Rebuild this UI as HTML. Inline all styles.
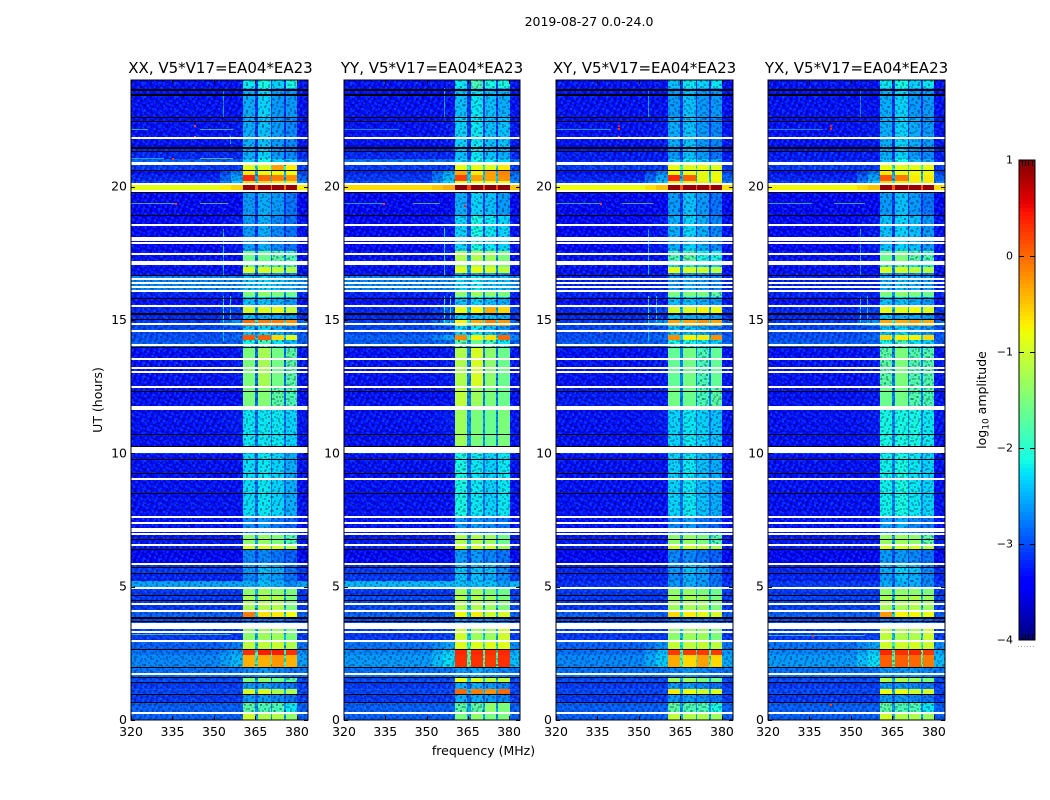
<!DOCTYPE html>
<html lang="en">
<head>
<meta charset="utf-8">
<title>2019-08-27 waterfall</title>
<style>
html,body{margin:0;padding:0;background:#fff;}
svg{display:block;font-family:"DejaVu Sans","Liberation Sans",sans-serif;fill:#000;}
</style>
</head>
<body>
<svg id="chart" xmlns="http://www.w3.org/2000/svg" width="1050" height="800" viewBox="0 0 1050 800">
<defs>
<pattern id="speckle" width="16" height="14" patternUnits="userSpaceOnUse">
<g fill="#000016" fill-opacity="0.28"><rect x="0" y="0" width="2" height="2"/><rect x="6" y="0" width="2" height="2"/><rect x="12" y="2" width="2" height="2"/><rect x="4" y="4" width="2" height="2"/><rect x="10" y="4" width="2" height="2"/><rect x="0" y="6" width="2" height="2"/><rect x="14" y="6" width="2" height="2"/><rect x="8" y="8" width="2" height="2"/><rect x="2" y="10" width="2" height="2"/><rect x="12" y="10" width="2" height="2"/><rect x="6" y="12" width="2" height="2"/></g>
<g fill="#20a0ff" fill-opacity="0.22"><rect x="3" y="0" width="2" height="2"/><rect x="9" y="2" width="2" height="2"/><rect x="1" y="3" width="2" height="2"/><rect x="14" y="0" width="2" height="2"/><rect x="7" y="5" width="2" height="2"/><rect x="12" y="7" width="2" height="2"/><rect x="3" y="7" width="2" height="2"/><rect x="10" y="10" width="2" height="2"/><rect x="5" y="9" width="2" height="2"/><rect x="0" y="12" width="2" height="2"/><rect x="14" y="12" width="2" height="2"/></g>
</pattern>
<pattern id="speckle-b" width="11" height="13" patternUnits="userSpaceOnUse">
<g fill="#000016" fill-opacity="0.22"><rect x="1" y="1" width="2" height="2"/><rect x="7" y="2" width="2" height="2"/><rect x="4" y="6" width="2" height="2"/><rect x="9" y="8" width="2" height="2"/><rect x="2" y="10" width="2" height="2"/></g>
<g fill="#20a0ff" fill-opacity="0.2"><rect x="4" y="0" width="2" height="2"/><rect x="9" y="4" width="2" height="2"/><rect x="1" y="5" width="2" height="2"/><rect x="6" y="9" width="2" height="2"/><rect x="0" y="11" width="2" height="2"/></g>
</pattern>
</defs>
<text x="589" y="26" font-size="12.5" text-anchor="middle">2019-08-27 0.0-24.0</text>
<text x="483.5" y="755" font-size="12.5" text-anchor="middle">frequency (MHz)</text>
<text transform="translate(102,400) rotate(-90)" font-size="12.5" text-anchor="middle">UT (hours)</text>
<text transform="translate(986,400) rotate(-90)" font-size="12.5" text-anchor="middle">log<tspan font-size="9" dy="2.5">10</tspan><tspan dy="-2.5"> amplitude</tspan></text>
<g id="panels"></g>
<g id="colorbar"></g>
</svg>
<script>
// ---- data ----
const panelTitles = ["XX, V5*V17=EA04*EA23", "YY, V5*V17=EA04*EA23", "XY, V5*V17=EA04*EA23", "YX, V5*V17=EA04*EA23"];
const xTickLabels = [320, 335, 350, 365, 380];
const yTickLabels = [0, 5, 10, 15, 20];
const colorbarTicks = [1, 0, -1, -2, -3, -4];
// Frequency bins (MHz): background, background, shoulder, ramp, ch1, gap, ch2, gap, ch3, gap, ch4, edge
const freqEdges = [320, 345, 352, 356, 360.4, 364.9, 366.1, 370.5, 371.1, 375.4, 375.9, 380.2, 384];
// Time bins (UT hours), top to bottom
const utEdges = [24, 23.7, 22.63, 21.5, 21.05, 20.8, 20.6, 20.42, 20.22, 20.1, 19.87, 18.92, 17.57, 17.15, 16.97, 16.77, 16.7, 16.07, 15.87, 15.55, 15.27, 15, 14.76, 14.44, 14.25, 14, 12.5, 11.66, 10.27, 9.98, 7.58, 7, 6.6, 6.4, 5.87, 5.5, 5.2, 4.95, 4.68, 4.13, 3.87, 3.65, 3, 2.65, 2.45, 2, 1.6, 1.41, 1.15, 0.96, 0.69, 0.31, 0];
// log10 amplitude per time bin: background, ramp, ch1, ch2, ch3, ch4, gap
const levelsXX = [
[-3.2,-3.0,-2.0,-1.9,-2.1,-1.9,-3.0],[-3.2,-3.0,-2.3,-2.1,-2.4,-2.4,-3.0],[-3.2,-2.9,-2.3,-2.2,-2.4,-2.5,-3.0],[-3.1,-2.9,-2.3,-2.1,-2.4,-2.5,-3.0],
[-2.8,-2.6,-2.1,-1.9,-2.1,-2.2,-2.6],[-3.0,-2.9,-0.9,-0.9,-0.5,-0.7,-2.0],[-3.2,-2.4,-0.7,-0.8,-0.8,-0.8,-2.4],[-3.1,-2.2,0.15,-0.2,-0.3,-0.4,-2.3],
[-3.0,-2.0,-0.6,-0.6,-0.7,-0.7,-2.0],[-0.75,-0.2,0.7,0.7,0.7,0.7,0.0],[-3.25,-3.0,-2.4,-2.3,-2.4,-2.6,-3.0],[-3.25,-2.9,-2.4,-2.3,-2.5,-2.6,-3.0],
[-3.2,-3.0,-1.6,-1.6,-1.7,-1.8,-2.6],[-3.2,-3.0,-1.7,-1.7,-1.8,-1.8,-2.6],[-3.2,-3.0,-0.95,-0.95,-1.1,-1.2,-2.5],[-3.2,-3.0,-2.5,-2.5,-2.5,-2.6,-3.0],
[-2.6,-2.5,-2.2,-2.1,-2.2,-2.3,-2.5],[-3.1,-2.9,-1.5,-1.4,-1.5,-1.6,-2.5],[-3.2,-3.0,-2.2,-2.2,-2.3,-2.4,-2.8],[-3.1,-2.7,-1.0,-0.95,-0.9,-1.1,-2.3],
[-3.1,-2.8,-2.2,-2.3,-2.3,-2.4,-2.8],[-3.0,-2.3,-0.2,-0.3,-0.3,-0.4,-2.0],[-2.9,-2.6,-2.2,-2.1,-2.3,-2.5,-2.7],[-2.9,-2.5,-0.1,-0.15,-0.6,-0.9,-2.2],
[-2.8,-2.6,-1.9,-1.8,-2.0,-2.2,-2.6],[-3.2,-2.9,-1.5,-1.25,-1.55,-1.7,-2.7],[-3.2,-3.0,-1.5,-1.45,-1.7,-1.8,-2.7],[-3.2,-2.9,-2.0,-2.0,-2.0,-2.1,-2.7],
[-3.0,-2.9,-2.2,-2.1,-2.2,-2.3,-2.7],[-3.2,-3.0,-2.05,-2.0,-2.1,-2.3,-2.7],[-3.2,-3.0,-2.5,-2.4,-2.6,-2.7,-2.9],[-3.15,-3.0,-1.4,-1.35,-1.5,-1.8,-2.4],
[-3.15,-3.0,-0.95,-0.95,-1.0,-1.2,-2.2],[-3.25,-3.0,-2.5,-2.5,-2.6,-2.7,-2.9],[-3.0,-2.9,-2.4,-2.2,-2.3,-2.6,-2.8],[-3.1,-2.9,-2.5,-2.3,-2.4,-2.6,-2.8],
[-2.45,-2.4,-2.3,-2.2,-2.3,-2.5,-2.5],[-3.0,-2.9,-1.4,-1.3,-1.4,-1.5,-2.3],[-3.0,-2.8,-1.25,-1.2,-1.2,-1.5,-2.3],[-2.8,-2.7,-0.3,-0.65,-0.7,-0.8,-2.1],
[-2.9,-2.8,-2.6,-2.6,-2.6,-2.7,-2.8],[-3.0,-2.8,-1.4,-1.3,-1.3,-1.5,-2.3],[-2.8,-2.4,-1.1,-1.1,-1.05,-1.2,-2.2],[-2.7,-2.2,0.1,0.2,0.2,0.1,-1.9],
[-2.6,-2.1,-0.58,-0.58,-0.45,-0.58,-1.9],[-2.7,-2.6,-2.5,-2.4,-2.5,-2.6,-2.6],[-2.9,-2.8,-1.5,-1.4,-1.6,-1.7,-2.4],[-3.0,-2.9,-2.4,-2.4,-2.5,-2.6,-2.8],
[-2.9,-2.8,-0.95,-0.9,-1.2,-1.2,-2.3],[-3.0,-2.9,-2.4,-2.4,-2.5,-2.6,-2.8],[-2.8,-2.7,-1.7,-1.8,-1.8,-2.0,-2.5],[-2.8,-2.7,-1.0,-1.2,-1.2,-1.4,-2.4]];
const levelsYY = [
[-3.2,-3.0,-2.0,-1.8,-1.9,-1.9,-3.0],[-3.2,-3.0,-2.2,-2.0,-2.2,-2.3,-3.0],[-3.2,-2.9,-2.1,-2.0,-2.2,-2.2,-3.0],[-3.1,-2.9,-2.2,-2.0,-2.2,-2.3,-3.0],
[-2.7,-2.5,-2.1,-1.9,-2.0,-2.1,-2.6],[-3.0,-2.8,-0.85,-0.85,-0.9,-0.7,-2.0],[-3.1,-2.2,-0.55,-0.7,-0.5,-0.35,-2.3],[-3.0,-2.1,0.0,-0.5,-0.5,-0.4,-2.2],
[-2.9,-1.9,-0.8,-0.8,-0.8,-0.8,-1.9],[-0.5,0.0,0.75,0.75,0.75,0.75,0.2],[-3.25,-3.0,-2.3,-2.1,-2.2,-2.4,-3.0],[-3.25,-2.9,-2.1,-1.9,-2.0,-2.1,-2.9],
[-3.2,-3.0,-1.2,-1.2,-1.3,-1.5,-2.5],[-3.2,-3.0,-1.3,-1.2,-1.3,-1.5,-2.5],[-3.2,-3.0,-0.9,-0.85,-0.95,-1.1,-2.4],[-3.2,-3.0,-2.4,-2.4,-2.4,-2.5,-3.0],
[-2.6,-2.5,-2.1,-2.0,-2.2,-2.2,-2.5],[-3.1,-2.9,-1.4,-1.3,-1.4,-1.5,-2.5],[-3.2,-3.0,-2.2,-2.1,-2.2,-2.3,-2.8],[-3.1,-2.6,-0.85,-0.75,-0.55,-0.6,-2.2],
[-3.1,-2.8,-2.1,-2.2,-2.2,-2.3,-2.7],[-3.0,-2.3,-0.75,-0.55,-0.3,-0.45,-2.0],[-2.9,-2.6,-2.1,-2.0,-2.2,-2.4,-2.7],[-2.8,-2.2,-0.35,-0.75,-0.65,-0.2,-2.0],
[-2.8,-2.5,-1.7,-1.6,-1.8,-2.0,-2.5],[-3.2,-2.9,-1.2,-0.95,-1.4,-1.6,-2.6],[-3.2,-3.0,-1.1,-1.3,-1.5,-1.6,-2.6],[-3.2,-2.9,-1.3,-1.5,-1.6,-1.5,-2.5],
[-3.0,-2.8,-1.9,-1.9,-2.0,-2.0,-2.6],[-3.2,-3.0,-1.9,-2.0,-2.1,-2.0,-2.7],[-3.2,-3.0,-2.4,-2.4,-2.5,-2.6,-2.9],[-3.15,-3.0,-1.2,-1.2,-1.3,-1.6,-2.4],
[-3.15,-3.0,-0.95,-0.95,-1.0,-1.3,-2.2],[-3.25,-3.0,-2.4,-2.4,-2.5,-2.6,-2.9],[-3.0,-2.9,-2.2,-2.2,-2.2,-2.5,-2.8],[-3.0,-2.9,-2.2,-2.2,-2.3,-2.5,-2.8],
[-2.35,-2.3,-2.2,-2.2,-2.2,-2.4,-2.4],[-3.0,-2.9,-1.3,-1.3,-1.5,-1.6,-2.3],[-2.9,-2.8,-1.2,-1.2,-1.3,-1.5,-2.3],[-2.8,-2.7,-0.8,-0.7,-1.0,-0.95,-2.1],
[-2.9,-2.8,-2.5,-2.5,-2.5,-2.6,-2.8],[-3.0,-2.7,-1.0,-1.3,-1.3,-1.0,-2.2],[-2.7,-2.2,-0.9,-0.9,-0.9,-0.9,-2.0],[-2.6,-2.0,0.15,0.15,0.1,0.15,-1.7],
[-2.5,-1.9,0.1,0.1,0.05,0.1,-1.7],[-2.7,-2.6,-2.4,-2.3,-2.4,-2.5,-2.6],[-2.9,-2.8,-0.85,-0.9,-1.1,-1.1,-2.2],[-3.0,-2.9,-2.3,-2.3,-2.4,-2.5,-2.8],
[-2.9,-2.7,-0.2,-0.3,-0.4,-0.2,-2.2],[-3.0,-2.9,-2.3,-2.3,-2.4,-2.5,-2.8],[-2.8,-2.7,-1.7,-1.7,-1.4,-1.5,-2.4],[-2.8,-2.7,-1.5,-1.4,-1.5,-1.5,-2.4]];
const levelsXY = [
[-3.2,-3.0,-2.2,-2.0,-2.1,-2.0,-3.0],[-3.2,-3.0,-2.4,-2.2,-2.4,-2.4,-3.0],[-3.2,-2.9,-2.3,-2.2,-2.4,-2.5,-3.0],[-3.15,-3.0,-2.4,-2.2,-2.4,-2.6,-3.0],
[-3.1,-2.9,-2.2,-2.0,-2.2,-2.3,-2.8],[-3.0,-2.9,-0.85,-0.9,-0.85,-0.9,-2.0],[-3.2,-2.4,-0.8,-0.85,-0.85,-0.85,-2.4],[-3.1,-2.2,0.15,-0.15,-0.85,-0.8,-2.3],
[-3.0,-2.0,-0.7,-0.7,-0.7,-0.7,-2.0],[-0.7,-0.1,0.7,0.7,0.7,0.7,0.1],[-3.25,-3.0,-2.4,-2.2,-2.4,-2.6,-3.0],[-3.25,-2.9,-2.3,-2.1,-2.3,-2.5,-3.0],
[-3.2,-3.0,-1.8,-1.7,-1.9,-1.9,-2.7],[-3.2,-3.0,-2.0,-1.9,-2.1,-2.1,-2.7],[-3.2,-3.0,-0.85,-0.95,-1.0,-1.1,-2.5],[-3.2,-3.0,-2.5,-2.5,-2.5,-2.6,-3.0],
[-3.1,-3.0,-2.4,-2.3,-2.4,-2.5,-2.9],[-3.1,-2.9,-1.5,-1.5,-1.5,-1.7,-2.5],[-3.2,-3.0,-2.2,-2.2,-2.3,-2.4,-2.8],[-3.1,-2.7,-1.0,-0.95,-0.75,-0.85,-2.3],
[-3.1,-2.8,-2.2,-2.3,-2.3,-2.4,-2.8],[-3.0,-2.3,-0.5,-0.5,-0.4,-0.5,-2.0],[-2.9,-2.6,-2.2,-2.2,-2.3,-2.5,-2.7],[-2.9,-2.5,-0.4,-0.75,-0.7,-0.4,-2.2],
[-2.8,-2.6,-1.9,-1.9,-2.0,-2.1,-2.6],[-3.2,-2.9,-1.65,-1.55,-1.8,-1.65,-2.6],[-3.15,-2.9,-1.55,-1.6,-1.8,-1.7,-2.6],[-3.2,-2.9,-2.1,-2.0,-2.1,-2.2,-2.7],
[-3.0,-2.9,-2.2,-2.2,-2.3,-2.4,-2.7],[-3.2,-3.0,-2.1,-2.0,-2.2,-2.3,-2.7],[-3.2,-3.0,-2.5,-2.4,-2.6,-2.7,-2.9],[-3.15,-3.0,-1.4,-1.35,-1.5,-1.8,-2.4],
[-3.15,-3.0,-1.0,-1.0,-1.05,-1.25,-2.2],[-3.25,-3.0,-2.5,-2.5,-2.6,-2.7,-2.9],[-3.1,-2.9,-2.4,-2.2,-2.3,-2.6,-2.8],[-3.1,-2.9,-2.5,-2.3,-2.4,-2.6,-2.8],
[-3.05,-2.9,-2.4,-2.3,-2.4,-2.6,-2.8],[-3.0,-2.9,-1.4,-1.35,-1.5,-1.6,-2.3],[-3.0,-2.8,-1.3,-1.25,-1.3,-1.5,-2.3],[-2.8,-2.7,-0.6,-0.7,-0.85,-0.95,-2.1],
[-2.9,-2.8,-2.6,-2.6,-2.6,-2.7,-2.8],[-3.0,-2.8,-1.4,-1.3,-1.3,-1.5,-2.3],[-2.8,-2.3,-1.05,-1.1,-1.05,-1.1,-2.1],[-2.7,-2.1,0.05,0.05,0.05,0.05,-1.9],
[-2.6,-2.0,-0.55,-0.6,-0.5,-0.6,-1.8],[-2.7,-2.6,-2.5,-2.4,-2.5,-2.6,-2.6],[-2.9,-2.8,-1.3,-1.3,-1.5,-1.6,-2.4],[-3.0,-2.9,-2.4,-2.4,-2.5,-2.6,-2.8],
[-2.9,-2.8,-0.7,-0.8,-1.0,-0.9,-2.3],[-3.0,-2.9,-2.4,-2.4,-2.5,-2.6,-2.8],[-2.8,-2.7,-1.7,-1.8,-1.8,-1.9,-2.5],[-2.8,-2.7,-1.1,-1.2,-1.2,-1.3,-2.4]];
const levelsYX = [
[-3.2,-3.0,-2.0,-1.9,-2.1,-2.0,-3.0],[-3.2,-3.0,-2.3,-2.1,-2.4,-2.4,-3.0],[-3.2,-2.9,-2.3,-2.1,-2.3,-2.4,-3.0],[-3.15,-3.0,-2.3,-2.1,-2.4,-2.5,-3.0],
[-3.1,-2.9,-2.2,-1.9,-2.2,-2.3,-2.8],[-3.0,-2.9,-0.85,-0.9,-0.85,-0.85,-2.0],[-3.2,-2.4,-0.7,-0.85,-0.8,-0.8,-2.4],[-3.1,-2.2,-0.1,-0.3,-0.7,-0.7,-2.3],
[-3.0,-2.0,-0.6,-0.7,-0.7,-0.7,-2.0],[-0.65,-0.1,0.7,0.7,0.7,0.7,0.1],[-3.25,-3.0,-2.4,-2.2,-2.4,-2.6,-3.0],[-3.25,-2.9,-2.2,-2.1,-2.2,-2.4,-3.0],
[-3.2,-3.0,-1.6,-1.5,-1.7,-1.8,-2.7],[-3.2,-3.0,-1.8,-1.8,-1.9,-2.0,-2.7],[-3.2,-3.0,-0.95,-1.0,-1.1,-1.15,-2.5],[-3.2,-3.0,-2.5,-2.5,-2.5,-2.6,-3.0],
[-3.1,-3.0,-2.3,-2.2,-2.3,-2.4,-2.9],[-3.1,-2.9,-1.5,-1.4,-1.5,-1.6,-2.5],[-3.2,-3.0,-2.2,-2.2,-2.3,-2.4,-2.8],[-3.1,-2.7,-0.9,-0.9,-0.8,-0.95,-2.3],
[-3.1,-2.8,-2.2,-2.3,-2.3,-2.4,-2.8],[-3.0,-2.3,-0.55,-0.55,-0.45,-0.55,-2.0],[-2.9,-2.6,-2.2,-2.1,-2.3,-2.4,-2.7],[-2.9,-2.5,-0.6,-0.7,-0.75,-0.6,-2.2],
[-2.8,-2.6,-1.9,-1.8,-2.0,-2.1,-2.6],[-3.2,-2.9,-1.7,-1.5,-1.75,-1.75,-2.6],[-3.2,-2.9,-1.6,-1.55,-1.75,-1.8,-2.6],[-3.2,-2.9,-1.9,-1.9,-1.9,-2.0,-2.6],
[-3.0,-2.9,-2.1,-2.0,-2.1,-2.2,-2.6],[-3.2,-3.0,-1.95,-1.9,-2.0,-2.1,-2.6],[-3.2,-3.0,-2.4,-2.3,-2.5,-2.6,-2.9],[-3.15,-3.0,-1.35,-1.3,-1.4,-1.7,-2.4],
[-3.15,-3.0,-0.95,-1.0,-0.95,-1.2,-2.2],[-3.25,-3.0,-2.4,-2.4,-2.5,-2.6,-2.9],[-3.1,-2.9,-2.3,-2.1,-2.2,-2.5,-2.8],[-3.1,-2.9,-2.4,-2.2,-2.3,-2.5,-2.8],
[-3.0,-2.9,-2.3,-2.3,-2.3,-2.5,-2.8],[-3.0,-2.9,-1.4,-1.4,-1.4,-1.5,-2.3],[-2.95,-2.8,-1.25,-1.25,-1.2,-1.3,-2.3],[-2.8,-2.7,-0.45,-0.75,-0.75,-0.8,-2.1],
[-2.9,-2.8,-2.6,-2.6,-2.6,-2.7,-2.8],[-3.0,-2.7,-1.1,-1.2,-1.2,-1.0,-2.2],[-2.7,-2.2,-1.0,-1.0,-0.95,-1.0,-2.0],[-2.6,-2.0,0.15,0.1,0.15,0.05,-1.7],
[-2.5,-1.9,-0.15,-0.15,-0.2,-0.3,-1.7],[-2.7,-2.6,-2.4,-2.4,-2.4,-2.5,-2.6],[-2.9,-2.8,-1.2,-1.2,-1.3,-1.5,-2.3],[-3.0,-2.9,-2.4,-2.4,-2.5,-2.6,-2.8],
[-2.9,-2.8,-0.8,-0.8,-1.0,-0.95,-2.3],[-3.0,-2.9,-2.4,-2.4,-2.5,-2.6,-2.8],[-2.8,-2.7,-1.7,-1.8,-1.8,-2.0,-2.5],[-2.8,-2.7,-1.0,-1.2,-1.2,-1.3,-2.4]];
const panelLevels = [levelsXX, levelsYY, levelsXY, levelsYX];
// Flagged (white) integrations, UT hours
const whiteGapsUT = [[20.92,20.80],[17.94,17.86],[16.12,16.05],[14.10,14.01],[10.25,10.0],[7.64,7.58],[7.20,7.04],[4.98,4.90],[3.65,3.43],[1.78,1.69]];
const whiteLinesUT = [21.88,20.15,19.87,18.6,18.1,18.02,17.53,17.22,17.13,16.57,16.42,16.26,15.57,14.87,14.61,13.56,13.22,13.07,12.51,11.79,11.7,9.06,7.41,7.01,6.59,5.87,4.39,4.13,3.33,3.01,0.29];
// Dropped (black) integrations, UT hours
const blackLinesUT = [23.66,23.63,23.48,23.45,22.62,22.45,21.48,21.45,21.32,20.61,19.8,18.92,16.7,15.81,15.53,15.25,15.22,15.05,13.97,12.35,10.71,10.27,9.8,9.25,8.5,6.78,6.4,5.75,5.5,4.68,4.5,3.85,3.82,3.7,2.65,1.98,1.6,1.41,0.96,0.69,0.31];
// Interference streaks per panel: UT, start MHz, end MHz, level
const streaksXX = [[22.16,320,326,-1.8],[22.16,345,357,-1.6],[21.06,320,332,-2.0],[21.06,345,357,-1.3],[19.38,320,336,-1.4],[19.38,345,355,-1.4],[3.21,320,356,-1.6]];
const streaksYY = [[22.16,320,340,-2.3],[19.38,320,335,-2.0],[19.38,345,355,-1.5]];
const streaksXY = [[22.16,320,340,-2.2],[19.38,320,336,-1.6],[19.38,344,355,-1.4],[14.6,320,355,-1.7]];
const streaksYX = [[22.16,320,340,-2.3],[19.38,320,336,-1.7],[19.38,344,355,-1.6],[3.2,320,355,-1.8]];
const panelStreaks = [streaksXX, streaksYY, streaksXY, streaksYX];
// Narrow vertical lines per panel: MHz, UT from, UT to, level
const vlinesXX = [[353.3,23.6,22.6,-2.6],[353.3,18.4,16.7,-2.4],[353.3,15.9,14.9,-2.2],[355.8,15.9,14.9,-2.3],[355.8,21.9,21.6,-2.4],[353.3,14.7,14.2,-2.4]];
const vlinesYY = [[356.5,23.7,22.6,-2.5],[356.5,18.5,16.7,-2.3],[356.5,15.9,14.9,-2.1],[358.5,15.9,14.9,-2.2]];
const vlinesXY = [[353.3,23.6,22.6,-2.5],[353.3,18.4,16.7,-2.4],[353.3,15.9,14.9,-2.2],[356.3,15.9,14.9,-2.3],[353.3,14.7,14.2,-2.4]];
const vlinesYX = [[353.3,23.6,22.6,-2.6],[353.3,18.4,16.7,-2.5],[353.3,15.9,14.9,-2.3],[355.8,15.9,14.9,-2.4]];
const panelVlines = [vlinesXX, vlinesYY, vlinesXY, vlinesYX];
// Hot samples per panel: UT, MHz, level
const hotXX = [[22.3,342.6,0.2],[21.9,342.6,0.0],[21.06,335,0.2],[19.38,336,0.2]];
const hotYY = [[19.3,363.7,0.4],[19.38,334,0.2]];
const hotXY = [[22.3,342.4,0.4],[22.2,342.4,0.3],[21.9,342.4,0.1],[19.38,336,0.2],[14.6,336,0.2]];
const hotYX = [[22.3,342.4,0.4],[22.2,342.4,0.3],[0.3,342.4,0.3],[0.6,342.4,0.2],[3.2,336,0.2]];
const panelHot = [hotXX, hotYY, hotXY, hotYX];

// ---- layout and scales ----
const NS = "http://www.w3.org/2000/svg";
const boxes = [[131, 308], [344, 520], [556, 733], [768, 945]];
const titleCenters = [220.5, 432, 644.5, 856.5];
const axTop = 80, axBottom = 720, utMax = 24, fMin = 320, fMax = 384;
const cbLeft = 1019, cbRight = 1035, cbTop = 160, cbBottom = 640, cbMax = 1, cbMin = -4;
const yScale = ut => axBottom - (ut / utMax) * (axBottom - axTop);
const cbScale = v => cbTop + (cbMax - v) / (cbMax - cbMin) * (cbBottom - cbTop);
function make(parent, tag) {
  const el = document.createElementNS(NS, tag);
  parent.appendChild(el);
  return el;
}
function rectAt(parent, x0, y0, x1, y1, fill) {
  const r = make(parent, "rect");
  r.setAttribute("x", x0);
  r.setAttribute("y", y0);
  r.setAttribute("width", x1 - x0);
  r.setAttribute("height", y1 - y0);
  r.setAttribute("fill", fill);
  r.setAttribute("shape-rendering", "crispEdges");
  return r;
}
function clamp01(v) { return Math.max(0, Math.min(1, v)); }
function jet(v) {
  const t = clamp01((v - cbMin) / (cbMax - cbMin));
  let r, g, b;
  r = t < 0.35 ? 0 : t < 0.66 ? (t - 0.35) / 0.31 : t < 0.89 ? 1 : 1 - (t - 0.89) / 0.11 * 0.5;
  g = t < 0.125 ? 0 : t < 0.375 ? (t - 0.125) / 0.25 : t < 0.64 ? 1 : t < 0.91 ? 1 - (t - 0.64) / 0.27 : 0;
  b = t < 0.11 ? 0.5 + t / 0.11 * 0.5 : t < 0.34 ? 1 : t < 0.65 ? 1 - (t - 0.34) / 0.31 : 0;
  return "rgb(" + Math.round(r * 255) + "," + Math.round(g * 255) + "," + Math.round(b * 255) + ")";
}
// Tone adjustment applied to every read level: quiet band cells darker, hot cells hotter
function tone(v) {
  if (v > -0.6) return v + 0.2;
  if (v < -1.8) return v - 0.22;
  return v;
}
function binLevel(row, k) {
  const bg = row[0] - 0.12;
  const ramp = bg + Math.max(0, row[1] - row[0] - 0.25);
  const gap = row[6] < -2 ? row[6] - 0.15 : row[6];
  return [bg, bg, (bg + ramp) / 2, ramp, tone(row[2]), gap, tone(row[3]), gap, tone(row[4]), gap, tone(row[5]), (bg + ramp) / 2][k];
}

// ---- panels ----
const panelsRoot = document.getElementById("panels");
panelTitles.forEach((title, p) => {
  const left = boxes[p][0], right = boxes[p][1];
  const xScale = f => left + (f - fMin) / (fMax - fMin) * (right - left);
  const g = make(panelsRoot, "g");
  
  

  const cellsLow = make(g, "g");
  
  
  const vGroup = make(g, "g");
  
  
  ["speckle", "speckle-b"].forEach(id => {
    const grain = make(g, "rect");
    
    
    grain.setAttribute("x", left);
    grain.setAttribute("y", axTop);
    grain.setAttribute("width", right - left);
    grain.setAttribute("height", axBottom - axTop);
    grain.setAttribute("fill", "url(#" + id + ")");
  });
  const cellsHigh = make(g, "g");
  
  

  panelLevels[p].forEach((row, i) => {
    const y0 = Math.round(yScale(utEdges[i]));
    const y1 = Math.round(yScale(utEdges[i + 1]));
    for (let k = 0; k < freqEdges.length - 1; k++) {
      const x0 = Math.round(xScale(freqEdges[k]));
      const x1 = Math.round(xScale(freqEdges[k + 1]));
      const level = binLevel(row, k);
      const c = rectAt(level > -1.7 ? cellsHigh : cellsLow, x0, y0, x1, y1, jet(level));
      
      
    }
  });

  panelVlines[p].forEach(v => {
    const x = Math.round(xScale(v[0]));
    const m = rectAt(vGroup, x, Math.round(yScale(v[1])), x + 1, Math.round(yScale(v[2])), jet(v[3]));
    
    
  });
  panelStreaks[p].forEach(s => {
    const y = Math.round(yScale(s[0]));
    const m = rectAt(g, Math.round(xScale(s[1])), y, Math.round(xScale(s[2])), y + 1, jet(s[3]));
    m.setAttribute("fill-opacity", "0.6");
    
    
  });
  panelHot[p].forEach(h => {
    const x = Math.round(xScale(h[1])), y = Math.round(yScale(h[0]));
    const m = rectAt(g, x, y, x + 2, y + 2, jet(h[2]));
    
    
  });

  blackLinesUT.forEach(ut => {
    const y = Math.round(yScale(ut));
    const m = rectAt(g, left, y, right, y + 1, "#000");
    
    
  });
  whiteGapsUT.forEach(gap => {
    const m = rectAt(g, left, Math.round(yScale(gap[0])), right, Math.round(yScale(gap[1])), "#fff");
    
    
  });
  whiteLinesUT.forEach(ut => {
    const y = Math.round(yScale(ut));
    const m = rectAt(g, left, y, right, y + 2, "#fff");
    
    
  });

  const frame = make(g, "rect");
  
  
  frame.setAttribute("x", left);
  frame.setAttribute("y", axTop);
  frame.setAttribute("width", right - left);
  frame.setAttribute("height", axBottom - axTop);
  frame.setAttribute("fill", "none");
  frame.setAttribute("stroke", "#000");
  frame.setAttribute("stroke-width", "1");

  const t = make(g, "text");
  
  
  t.setAttribute("x", titleCenters[p]);
  t.setAttribute("y", 73);
  t.setAttribute("font-size", "15");
  t.setAttribute("text-anchor", "middle");
  t.textContent = title;

  xTickLabels.forEach(v => {
    const x = Math.round(xScale(v));
    [[axBottom - 4, axBottom], [axTop, axTop + 4]].forEach(seg => {
      const m = rectAt(g, x, seg[0], x + 1, seg[1], "#000");
      
      
    });
    const l = make(g, "text");
    
    
    l.setAttribute("x", xScale(v));
    l.setAttribute("y", 736);
    l.setAttribute("font-size", "12.5");
    l.setAttribute("text-anchor", "middle");
    l.textContent = v;
  });
  yTickLabels.forEach(v => {
    const y = Math.round(yScale(v));
    [[left, left + 4], [right - 4, right]].forEach(seg => {
      const m = rectAt(g, seg[0], y, seg[1], y + 1, "#000");
      
      
    });
    const l = make(g, "text");
    
    
    l.setAttribute("x", left - 4);
    l.setAttribute("y", yScale(v) + 4);
    l.setAttribute("font-size", "12.5");
    l.setAttribute("text-anchor", "end");
    l.textContent = v;
  });
});

// ---- colorbar ----
const cbRoot = document.getElementById("colorbar");
for (let y = cbTop; y < cbBottom; y += 4) {
  const v = cbMax - (y + 2 - cbTop) / (cbBottom - cbTop) * (cbMax - cbMin);
  const s = rectAt(cbRoot, cbLeft, y, cbRight, y + 4, jet(v));
  
  
}
const cbFrame = make(cbRoot, "rect");


cbFrame.setAttribute("x", cbLeft);
cbFrame.setAttribute("y", cbTop);
cbFrame.setAttribute("width", cbRight - cbLeft);
cbFrame.setAttribute("height", cbBottom - cbTop);
cbFrame.setAttribute("fill", "none");
cbFrame.setAttribute("stroke", "#000");
cbFrame.setAttribute("stroke-width", "1");
colorbarTicks.forEach(v => {
  const y = Math.round(cbScale(v));
  if (v !== cbMax && v !== cbMin) {
    [[cbLeft, cbLeft + 5], [cbRight - 5, cbRight]].forEach(seg => {
      const m = rectAt(cbRoot, seg[0], y, seg[1], y + 1, "#000");
      
      
    });
  }
  const l = make(cbRoot, "text");
  
  
  l.setAttribute("x", 1013);
  l.setAttribute("y", cbScale(v) + 3.5);
  l.setAttribute("font-size", "11");
  l.setAttribute("text-anchor", "end");
  l.textContent = String(v).replace("-", "\u2212");
});
[1022, 1025, 1028, 1032].forEach(x => {
  [[cbTop, cbTop + 6], [cbBottom - 6, cbBottom]].forEach(seg => {
    const m = rectAt(cbRoot, x, seg[0], x + 1, seg[1], "#000");
    
    
  });
});
[1018, 1021, 1024, 1027, 1030, 1033].forEach(x => {
  const m = rectAt(cbRoot, x, 646, x + 1, 647, "#aaa");
  
  
});
</script>
</body>
</html>
